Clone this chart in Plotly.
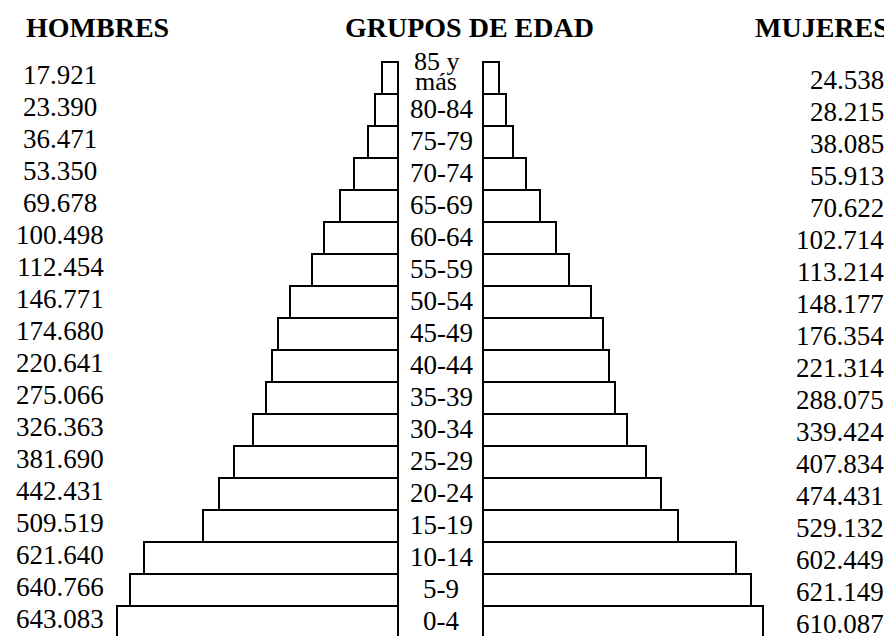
import plotly.graph_objects as go

# ---- data (bottom row first) ----
grupos = ["0-4", "5-9", "10-14", "15-19", "20-24", "25-29", "30-34", "35-39",
          "40-44", "45-49", "50-54", "55-59", "60-64", "65-69", "70-74",
          "75-79", "80-84", "85 y más"]
hombres = [643083, 640766, 621640, 509519, 442431, 381690, 326363, 275066,
           220641, 174680, 146771, 112454, 100498, 69678, 53350, 36471,
           23390, 17921]
mujeres = [610087, 621149, 602449, 529132, 474431, 407834, 339424, 288075,
           221314, 176354, 148177, 113214, 102714, 70622, 55913, 38085,
           28215, 24538]
# bar lengths as drawn in the schematic pyramid (arbitrary units)
hombres_barra = [280.7, 267.7, 254.0, 194.4, 178.4, 163.4, 144.7, 132.0, 125.4,
                 119.7, 107.7, 85.4, 74.0, 57.4, 43.4, 29.4, 22.4, 16.0]
mujeres_barra = [279.7, 267.4, 252.7, 194.7, 177.4, 163.0, 144.0, 132.0, 125.4,
                 119.7, 107.4, 85.4, 73.0, 57.0, 42.7, 29.4, 22.4, 16.0]
titulos = ["HOMBRES", "GRUPOS DE EDAD", "MUJERES"]


def fmt(v):
    return f"{v:,}".replace(",", ".")


# the page body has an 8px margin; the figure is sized to fill the rest of the window
OFF = 8
PW, PH = 892, 636
W, H = PW - OFF, PH - OFF
FONT = "Liberation Serif"
FS = 27


def fx(px):
    return (px - OFF) / W


def fy(py):
    return 1 - (py - OFF) / H


fig = go.Figure()
bar_style = dict(marker=dict(color="white", line=dict(color="black", width=2)),
                 orientation="h", hoverinfo="skip", showlegend=False)
fig.add_trace(go.Bar(x=hombres_barra, y=grupos, xaxis="x", yaxis="y", **bar_style))
fig.add_trace(go.Bar(x=mujeres_barra, y=grupos, xaxis="x2", yaxis="y", **bar_style))

# page-pixel geometry
male_axis_px = 397.7
fem_axis_px = 483.3
male_dom_right = 420
fem_dom_left = 460
top_px = 62.3
nrows = len(grupos)
y_bot_val = -0.44          # bottom row runs past the lower edge
y_top_val = nrows - 0.5 + 0.1
row_h = (PH - top_px) / ((nrows - 0.5) - y_bot_val)
dom_h = (y_top_val - y_bot_val) * row_h

ann = []
for i, g in enumerate(grupos):
    ann.append(dict(x=fx(60), y=g, xref="paper", yref="y", text=fmt(hombres[i]),
                    xanchor="center", yanchor="middle", showarrow=False, yshift=3,
                    font=dict(family=FONT, size=FS, color="black")))
    ann.append(dict(x=fx(886), y=g, xref="paper", yref="y", text=fmt(mujeres[i]),
                    xanchor="right", yanchor="middle", showarrow=False, yshift=-2,
                    font=dict(family=FONT, size=FS, color="black")))
    if g == "85 y más":
        parts = g.split(" ")
        ann.append(dict(x=fx(437), y=g, xref="paper", yref="y", text=" ".join(parts[:2]),
                        xanchor="center", yanchor="middle", showarrow=False, yshift=17,
                        font=dict(family=FONT, size=FS - 1, color="black")))
        ann.append(dict(x=fx(436), y=g, xref="paper", yref="y", text=parts[2],
                        xanchor="center", yanchor="middle", showarrow=False, yshift=-3,
                        font=dict(family=FONT, size=FS - 1, color="black")))
    else:
        ann.append(dict(x=fx(441), y=g, xref="paper", yref="y", text=g,
                        xanchor="center", yanchor="middle", showarrow=False, yshift=1,
                        font=dict(family=FONT, size=FS, color="black")))

for t, cx in zip(titulos, [97, 469, 822]):
    ann.append(dict(x=fx(cx), y=fy(28), xref="paper", yref="paper",
                    text=f"<b>{t}</b>", xanchor="center", yanchor="middle",
                    showarrow=False, font=dict(family=FONT, size=28, color="black")))

axis_common = dict(showgrid=False, zeroline=False, showline=False,
                   showticklabels=False, ticks="")
fig.update_layout(
    width=W, height=H,
    margin=dict(l=0, r=0, t=0, b=0),
    paper_bgcolor="white", plot_bgcolor="rgba(0,0,0,0)",
    bargap=0,
    xaxis=dict(domain=[0, fx(male_dom_right)],
               range=[male_axis_px - OFF, -(male_dom_right - male_axis_px)], **axis_common),
    xaxis2=dict(domain=[fx(fem_dom_left), 1],
                range=[-(fem_axis_px - fem_dom_left), PW - fem_axis_px],
                anchor="y", **axis_common),
    yaxis=dict(domain=[0, dom_h / H], range=[y_bot_val, y_top_val],
               categoryorder="array", categoryarray=grupos, type="category",
               **axis_common),
    annotations=ann,
)

fig.write_html("out.html")
